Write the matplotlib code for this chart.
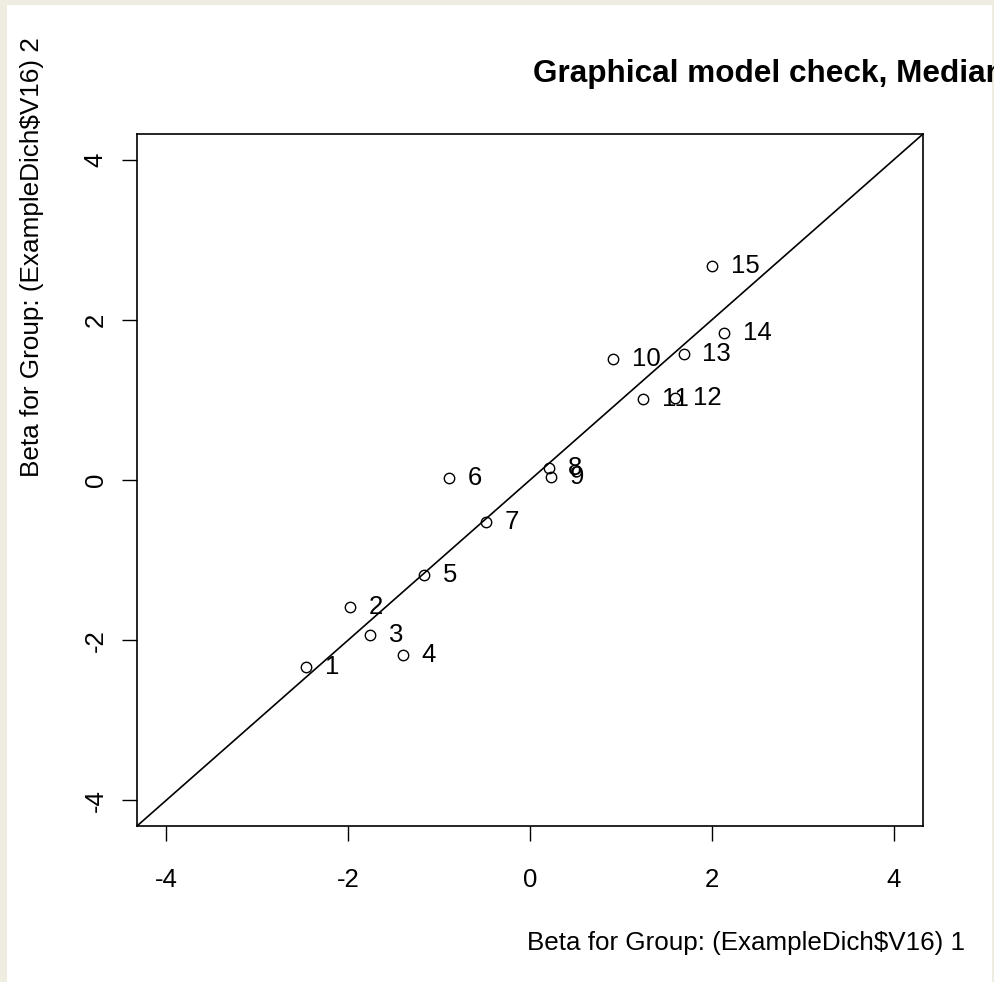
import matplotlib
matplotlib.use("Agg")
import matplotlib.pyplot as plt
from matplotlib.patches import Rectangle

# Data
labels = [str(i) for i in range(1, 16)]
beta_g1 = [-2.46, -1.98, -1.76, -1.40, -1.16, -0.89, -0.48, 0.21, 0.23, 0.91, 1.24, 1.59, 1.69, 2.13, 2.00]
beta_g2 = [-2.34, -1.58, -1.93, -2.18, -1.19, 0.03, -0.53, 0.15, 0.04, 1.51, 1.01, 1.03, 1.57, 1.83, 2.67]
ticks = [-4, -2, 0, 2, 4]
lim = 4.32

plt.rcParams['font.family'] = ['Liberation Sans', 'DejaVu Sans']

W, H = 994, 982
fig = plt.figure(figsize=(W / 100, H / 100), dpi=100)
fig.patch.set_facecolor('#efece2')
fig.patches.append(Rectangle((7 / W, 0), (992 - 7) / W, (982 - 5) / H,
                             transform=fig.transFigure, facecolor='white',
                             edgecolor='none', zorder=-10))

ax = fig.add_axes([137 / W, 1 - 826 / H, (923 - 137) / W, (826 - 134) / H])
ax.set_zorder(1)
ax.set_xlim(-lim, lim)
ax.set_ylim(-lim, lim)
ax.plot([-lim, lim], [-lim, lim], color='black', lw=1.2)
ax.plot(beta_g1, beta_g2, linestyle='none', marker='o', markersize=7.5,
        markerfacecolor='none', markeredgecolor='black', markeredgewidth=1.0)
for x, y, t in zip(beta_g1, beta_g2, labels):
    ax.annotate(t, (x, y), xytext=(13.5, 0), textcoords='offset points',
                ha='left', va='center', fontsize=18.5)

ax.set_xticks(ticks)
ax.set_yticks(ticks)
ax.set_xticklabels([str(t) for t in ticks])
ax.set_yticklabels([str(t) for t in ticks], rotation=90, va='center')
ax.tick_params(axis='x', length=11, width=1, labelsize=18.5, pad=19)
ax.tick_params(axis='y', length=11, width=1, labelsize=18.5, pad=10)
for s in ax.spines.values():
    s.set_linewidth(1.2)

fig.text(533 / W, 1 - 82 / H, "Graphical model check, Median", fontsize=22.7,
         fontweight='bold', ha='left', va='baseline', zorder=2)
fig.text(965 / W, 1 - 943 / H, "Beta for Group: (ExampleDich$V16) 1",
         fontsize=18.7, ha='right', va='center', zorder=2)
fig.text(32 / W, 1 - 37 / H, "Beta for Group: (ExampleDich$V16) 2",
         fontsize=18.8, ha='center', va='top', rotation=90, zorder=2)

fig.savefig('out.png', dpi=100, facecolor=fig.get_facecolor())
